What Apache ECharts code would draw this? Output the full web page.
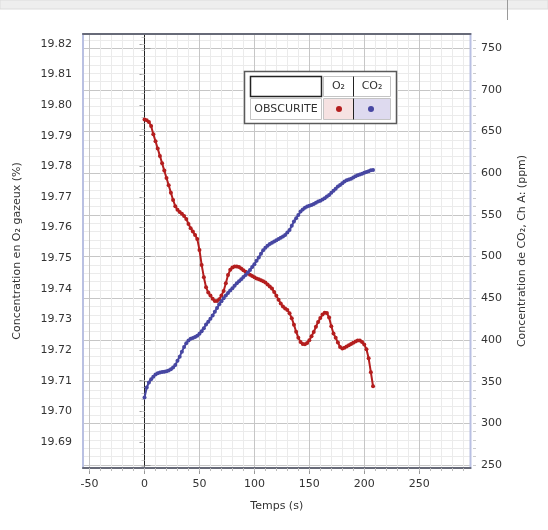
<!DOCTYPE html>
<html>
<head>
<meta charset="utf-8">
<script src="https://cdn.jsdelivr.net/npm/echarts@6/dist/echarts.min.js"></script>
<style>
  html, body { margin: 0; padding: 0; background: #fff; }
  #chart { width: 548px; height: 530px; }
</style>
</head>
<body>
<div id="chart"></div>
<script>
const times = [0,2,4,6,8,10,12,14,16,18,20,22,24,26,28,30,32,34,36,38,40,42,44,46,48,50,
  52,54,56,58,60,62,64,66,68,70,72,74,76,78,80,82,84,86,88,90,92,94,96,98,100,
  102,104,106,108,110,112,114,116,118,120,122,124,126,128,130,132,134,136,138,140,
  142,144,146,148,150,152,154,156,158,160,162,164,166,168,170,172,174,176,178,180,
  182,184,186,188,190,192,194,196,198,200,202,204,206,208];

const o2 = [19.7953,19.7950,19.7945,19.7932,19.7905,19.7882,19.7858,19.7834,19.7810,19.7786,
  19.7762,19.7738,19.7714,19.7690,19.7670,19.7658,19.7651,19.7645,19.7638,19.7628,
  19.7612,19.7598,19.7587,19.7576,19.7563,19.7527,19.7478,19.7438,19.7405,19.7388,
  19.7378,19.7368,19.7360,19.7360,19.7366,19.7378,19.7393,19.7418,19.7445,19.7462,
  19.7470,19.7473,19.7473,19.7471,19.7466,19.7461,19.7456,19.7450,19.7446,19.7442,
  19.7438,19.7434,19.7431,19.7428,19.7425,19.7421,19.7414,19.7408,19.7401,19.7390,
  19.7377,19.7364,19.7352,19.7342,19.7336,19.7331,19.7320,19.7304,19.7283,19.7260,
  19.7240,19.7226,19.7220,19.7219,19.7223,19.7232,19.7245,19.7259,19.7276,19.7292,
  19.7305,19.7316,19.7322,19.7321,19.7306,19.7278,19.7254,19.7240,19.7225,19.7210,
  19.7205,19.7208,19.7212,19.7216,19.7220,19.7224,19.7228,19.7231,19.7231,19.7226,
  19.7218,19.7203,19.7173,19.7128,19.7082];

const co2 = [331,343,349,353,356,358.5,360,361,361.5,362,
  362.5,363.5,365,367,370,375,380,386,391.5,396,
  399.5,401.5,402.5,403.5,405,407.5,410.5,414,418.5,422,
  425.5,429.5,434,438.5,443,446.5,450,453.5,456.5,459.5,
  462,465,468,470.5,473,475.5,478,481,484,487.5,
  491,495,499,503.5,507.5,510.5,513,515,516.5,518,
  519.5,521,522.5,524,526,529,532,537,542,546,
  550,554,556.5,558.5,560,561,562,563,564.5,566,
  567,568.5,570,572,574,576.5,579,581.5,584,586,
  588,590,591.5,592.5,593.5,595,596.5,597.5,598.5,599.5,
  600.5,601.5,602.5,603.5,604];

// graduations
const xTicks = [-50, 0, 50, 100, 150, 200, 250];
const xMinor = [-50,-40,-30,-20,-10,0,10,20,30,40,50,60,70,80,90,100,110,120,130,140,
  150,160,170,180,190,200,210,220,230,240,250,260,270,280,290];
const o2Ticks = [19.69,19.70,19.71,19.72,19.73,19.74,19.75,19.76,19.77,19.78,19.79,19.80,19.81,19.82];
const co2Ticks = [250,300,350,400,450,500,550,600,650,700,750];
const co2Minor = [250,260,270,280,290,300,310,320,330,340,350,360,370,380,390,400,410,420,
  430,440,450,460,470,480,490,500,510,520,530,540,550,560,570,580,590,600,610,620,
  630,640,650,660,670,680,690,700,710,720,730,740,750,760];
const o2Minor = [];
for (let v = 19.682; v < 19.823; v += 0.002) o2Minor.push(+v.toFixed(3));

const X_MIN = -56, X_MAX = 296.7;
const O2_MIN = 19.6815, O2_MAX = 19.8232;
const CO2_MIN = 246.4, CO2_MAX = 767.1;

const font = "DejaVu Sans";
const red = "#b41e1e";
const blue = "#4747a2";
const minorGrid = { color: "#ebebeb", width: 1, type: "solid" };
const majorGrid = { color: "#c6c6c6", width: 1, type: "solid" };

const chart = echarts.init(document.getElementById("chart"));

const hidden = { show: false };

// quadrillage : lignes fines tous les 10, lignes marquées aux graduations principales
const vLines = xMinor.filter(v => !xTicks.includes(v)).map(v => ({ xAxis: v, lineStyle: minorGrid }))
  .concat(xTicks.map(v => ({ xAxis: v, lineStyle: majorGrid })));
const hLines = co2Minor.filter(v => !co2Ticks.includes(v)).map(v => ({ yAxis: v, lineStyle: minorGrid }))
  .concat(co2Ticks.map(v => ({ yAxis: v, lineStyle: majorGrid })));

function gridSeries(yIndex, lines) {
  return {
    type: "line", xAxisIndex: 0, yAxisIndex: yIndex, z: 1, silent: true,
    data: [], showSymbol: false,
    markLine: {
      z: 1, silent: true, symbol: "none", animation: false,
      label: hidden, emphasis: { disabled: true },
      data: lines
    }
  };
}

// petit tableau "légende" en haut du graphe
const Z = 100;
function cell(x, y, w, h, fill, stroke, lw) {
  return { type: "rect", z: Z, shape: { x, y, width: w, height: h }, style: { fill, stroke, lineWidth: lw } };
}
function label(x, y, text) {
  return { type: "text", z: Z + 1, x, y,
    style: { text, font: "11px 'DejaVu Sans'", fill: "#333", align: "center", verticalAlign: "middle" } };
}

chart.setOption({
  animation: false,
  textStyle: { fontFamily: font },
  grid: {
    left: 83, right: 77.5, top: 34, bottom: 62, z: 2,
    show: true, borderColor: "#b9c0e2", borderWidth: 2
  },
  xAxis: [
    {
      type: "value", min: X_MIN, max: X_MAX, position: "bottom", z: 2,
      name: "Temps (s)", nameLocation: "middle", nameGap: 33,
      nameTextStyle: { fontFamily: font, fontSize: 11, color: "#333" },
      axisLine: { show: true, lineStyle: { color: "#676a78", width: 2 } },
      axisTick: { show: true, customValues: xTicks, length: 6, lineStyle: { color: "#999" } },
      axisLabel: { customValues: xTicks, margin: 11, fontFamily: font, fontSize: 11, color: "#333" },
      splitLine: hidden
    },
    {
      type: "value", min: X_MIN, max: X_MAX, position: "bottom", z: 2,
      axisLine: hidden, axisLabel: hidden, splitLine: hidden,
      axisTick: { show: true, customValues: xMinor, length: 3, lineStyle: { color: "#bbb" } }
    },
    {
      type: "value", min: X_MIN, max: X_MAX, position: "top", z: 2,
      axisLine: { show: true, lineStyle: { color: "#676a78", width: 2 } },
      axisLabel: hidden, axisTick: hidden, splitLine: hidden
    }
  ],
  yAxis: [
    {
      type: "value", min: O2_MIN, max: O2_MAX, position: "left", offset: 5, z: 2,
      name: "Concentration en O\u2082 gazeux (%)", nameLocation: "middle", nameGap: 55,
      nameTextStyle: { fontFamily: font, fontSize: 11, color: "#333" },
      axisLine: hidden,
      axisTick: { show: true, customValues: o2Ticks, length: 5, lineStyle: { color: "#999" } },
      axisLabel: {
        customValues: o2Ticks, margin: 6, fontFamily: font, fontSize: 11, color: "#333",
        formatter: v => v.toFixed(2)
      },
      splitLine: hidden
    },
    {
      type: "value", min: CO2_MIN, max: CO2_MAX, position: "right", offset: 2.5, z: 2,
      name: "Concentration de CO\u2082, Ch A: (ppm)", nameLocation: "middle", nameGap: 44,
      nameRotate: 90,
      nameTextStyle: { fontFamily: font, fontSize: 11, color: "#333" },
      axisLine: hidden,
      axisTick: { show: true, customValues: co2Ticks, length: 6, lineStyle: { color: "#999" } },
      axisLabel: { customValues: co2Ticks, margin: 8, fontFamily: font, fontSize: 11, color: "#333" },
      splitLine: hidden
    },
    {
      type: "value", min: O2_MIN, max: O2_MAX, position: "left", offset: 5, z: 2,
      axisLine: hidden, axisLabel: hidden, splitLine: hidden,
      axisTick: { show: true, customValues: o2Minor, length: 3, lineStyle: { color: "#ccc" } }
    },
    {
      type: "value", min: CO2_MIN, max: CO2_MAX, position: "right", offset: 2.5, z: 2,
      axisLine: hidden, axisLabel: hidden, splitLine: hidden,
      axisTick: { show: true, customValues: co2Minor, length: 3, lineStyle: { color: "#ccc" } }
    }
  ],
  series: [
    gridSeries(1, hLines),
    gridSeries(1, vLines),
    {
      name: "O\u2082", type: "line", xAxisIndex: 0, yAxisIndex: 0, z: 3,
      data: times.map((t, i) => [t, o2[i]]),
      showSymbol: true, showAllSymbol: true, symbol: "circle", symbolSize: 4,
      itemStyle: { color: red }, lineStyle: { color: red, width: 2 },
      markLine: {
        z: 2, silent: true, symbol: "none", label: hidden,
        lineStyle: { color: "#222", width: 1, type: "solid" },
        data: [{ xAxis: 0 }]
      }
    },
    {
      name: "CO\u2082", type: "line", xAxisIndex: 0, yAxisIndex: 1, z: 4,
      data: times.map((t, i) => [t, co2[i]]),
      showSymbol: true, showAllSymbol: true, symbol: "circle", symbolSize: 4,
      itemStyle: { color: blue }, lineStyle: { color: blue, width: 2 }
    }
  ],
  graphic: [
    // barre grise en haut de la fenêtre
    { type: "rect", shape: { x: 0, y: 0, width: 548, height: 9 },
      style: { fill: "#eeeeee", stroke: "#dcdcdc", lineWidth: 1 }, silent: true },
    { type: "line", shape: { x1: 507.5, y1: 0, x2: 507.5, y2: 20 },
      style: { stroke: "#9a9a9a", lineWidth: 1 }, silent: true },
    {
      type: "group", x: 244, y: 71, z: Z, silent: true,
      children: [
        cell(0.5, 0.5, 152, 52, "#fff", "#5a5a5a", 1.5),
        cell(6.5, 5.5, 71, 20, "#fff", "#222", 1.5),
        cell(79.5, 5.5, 30, 20, "#fff", "#c4c4c4", 1),
        cell(109.5, 5.5, 37, 20, "#fff", "#c4c4c4", 1),
        cell(6.5, 27.5, 71, 21, "#fff", "#c4c4c4", 1),
        cell(79.5, 27.5, 30, 21, "#f6e2e2", "#c4c4c4", 1),
        cell(109.5, 27.5, 37, 21, "#dedaef", "#c4c4c4", 1),
        { type: "line", z: Z + 1, shape: { x1: 109.5, y1: 5.5, x2: 109.5, y2: 25.5 },
          style: { stroke: "#222", lineWidth: 1 } },
        { type: "line", z: Z + 1, shape: { x1: 109.5, y1: 27.5, x2: 109.5, y2: 48.5 },
          style: { stroke: "#222", lineWidth: 1 } },
        label(94.5, 15.5, "O\u2082"),
        label(128, 15.5, "CO\u2082"),
        label(42, 38, "OBSCURITE"),
        { type: "circle", z: Z + 1, shape: { cx: 95, cy: 38, r: 3 }, style: { fill: red } },
        { type: "circle", z: Z + 1, shape: { cx: 127, cy: 38, r: 3 }, style: { fill: blue } }
      ]
    }
  ]
});
</script>
</body>
</html>
